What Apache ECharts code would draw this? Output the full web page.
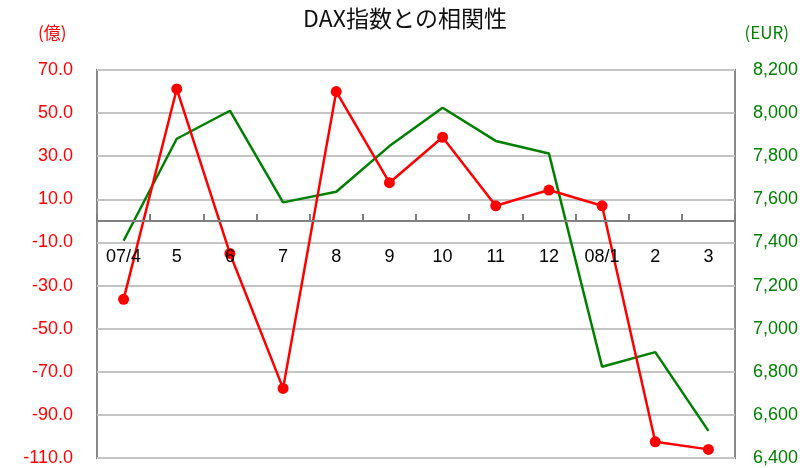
<!DOCTYPE html>
<html>
<head>
<meta charset="utf-8">
<script src="https://cdn.jsdelivr.net/npm/echarts@6/dist/echarts.min.js"></script>
<style>
  html, body { margin: 0; padding: 0; background: #fff; }
  #main { width: 810px; height: 468px; }
</style>
</head>
<body>
<div id="main"></div>
<script>
// months (07/4 .. 08/3)
let months = ['07/4', '5', '6', '7', '8', '9', '10', '11', '12', '08/1', '2', '3'];
// red series, left axis (億)
let flowValues = [-36.4, 61.2, -15.1, -77.7, 60.0, 17.7, 38.8, 7.0, 14.3, 7.0, -102.5, -106.0];
// green series, right axis (EUR)
let daxValues = [7408, 7881, 8011, 7586, 7635, 7847, 8025, 7871, 7813, 6823, 6891, 6526];

let leftMin = -110, leftMax = 70;
let gridTop = 70, gridBottom = 10;
let labelFont = 'Liberation Sans';

// put the category axis on the zero line of the left axis
let plotHeight = 468 - gridTop - gridBottom;
let zeroOffset = -(0 - leftMin) / (leftMax - leftMin) * plotHeight;

function withComma(v) {
    return String(v).replace(/\B(?=(\d{3})+(?!\d))/g, ',');
}

let option = {
    animation: false,
    backgroundColor: '#fff',
    title: [{
        text: 'DAX指数との相関性',
        left: 'center',
        top: 2,
        textStyle: {
            fontFamily: 'Noto Sans CJK JP',
            fontSize: 23,
            fontWeight: 'normal',
            color: '#111'
        }
    }, {
        text: '(億)',
        left: 33,
        top: 19,
        textStyle: {
            fontFamily: 'Noto Sans CJK JP',
            fontSize: 17,
            fontWeight: 'normal',
            color: '#ff0000'
        }
    }, {
        text: '(EUR)',
        right: 16,
        top: 19,
        textStyle: {
            fontFamily: 'Noto Sans CJK JP',
            fontSize: 17,
            fontWeight: 'normal',
            color: '#008000'
        }
    }],
    grid: {
        left: 97,
        right: 75,
        top: gridTop,
        bottom: gridBottom,
        outerBoundsMode: 'none',
        containLabel: false,
        show: true,
        borderColor: '#888',
        borderWidth: 2
    },
    xAxis: {
        type: 'category',
        data: months,
        boundaryGap: true,
        position: 'bottom',
        offset: zeroOffset,
        z: 5,
        axisLine: {
            show: true,
            onZero: false,
            lineStyle: { color: '#808080', width: 2 }
        },
        axisTick: {
            show: true,
            inside: true,
            alignWithLabel: false,
            interval: 0,
            length: 7,
            lineStyle: { color: '#808080', width: 2 }
        },
        axisLabel: {
            margin: 27,
            color: '#000',
            fontFamily: labelFont,
            fontSize: 18
        },
        splitLine: { show: false }
    },
    yAxis: [{
        type: 'value',
        min: leftMin,
        max: leftMax,
        interval: 10,
        axisLine: { show: false },
        axisTick: { show: false },
        splitLine: { show: false },
        axisLabel: {
            margin: 24,
            color: '#ff0000',
            fontFamily: labelFont,
            fontSize: 18,
            formatter: function (v) {
                return Math.round(v / 10) % 2 !== 0 ? v.toFixed(1) : '';
            }
        }
    }, {
        type: 'value',
        min: 6400,
        max: 8200,
        interval: 200,
        position: 'right',
        axisLine: { show: false },
        axisTick: { show: false },
        splitLine: {
            show: true,
            lineStyle: { color: '#c4c4c4', width: 2 }
        },
        axisLabel: {
            margin: 18,
            color: '#008000',
            fontFamily: labelFont,
            fontSize: 18,
            formatter: withComma
        }
    }],
    series: [{
        name: 'DAX',
        type: 'line',
        yAxisIndex: 1,
        data: daxValues,
        symbol: 'none',
        lineStyle: { color: '#008000', width: 2.5 },
        itemStyle: { color: '#008000' }
    }, {
        name: '億',
        type: 'line',
        yAxisIndex: 0,
        data: flowValues,
        symbol: 'circle',
        symbolSize: 11,
        lineStyle: { color: '#ff0000', width: 2.5 },
        itemStyle: { color: '#ff0000' }
    }]
};

let myChart = echarts.init(document.getElementById('main'));
myChart.setOption(option);
</script>
</body>
</html>
